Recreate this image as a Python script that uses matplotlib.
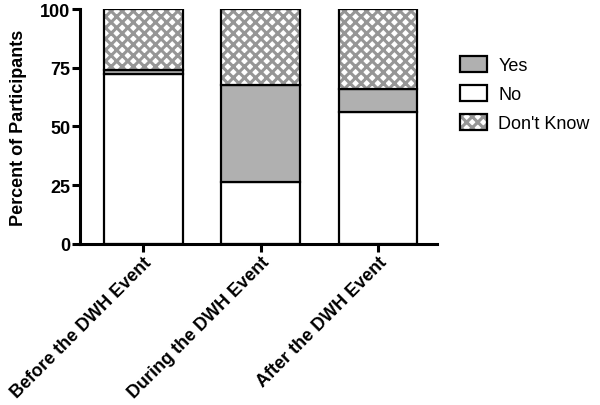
import matplotlib
matplotlib.use("Agg")
import matplotlib.pyplot as plt
import matplotlib.patches as mpatches
import numpy as np

plt.rcParams['font.family'] = ['Liberation Sans', 'DejaVu Sans']
plt.rcParams['hatch.linewidth'] = 2.2

# data (percent of participants)
periods = ["Before the DWH Event", "During the DWH Event", "After the DWH Event"]
no = [72.3, 26.5, 56.2]
yes = [1.7, 41.2, 9.8]
dont_know = [26.0, 32.3, 34.0]

x = np.arange(len(periods))
w = 0.67
no = np.array(no)
yes = np.array(yes)
dont_know = np.array(dont_know)

hatch_gray = '#969696'

fig = plt.figure(figsize=(6, 4.06), dpi=100)
ax = fig.add_axes([0.133, 0.397, 0.595, 0.578])

# no - white bottom
ax.bar(x, no, w, color='white', edgecolor='black', linewidth=1.6)
# yes - gray middle
ax.bar(x, yes, w, bottom=no, color='#b0b0b0', edgecolor='black', linewidth=1.6)
# don't know - hatched, fill first then outline
ax.bar(x, dont_know, w, bottom=no + yes, color='white', edgecolor=hatch_gray,
       hatch='xxx', linewidth=0)
ax.bar(x, dont_know, w, bottom=no + yes, fill=False, edgecolor='black', linewidth=1.6)

# legend (hatched box = hatch fill + black outline)
h_yes = mpatches.Patch(facecolor='#b0b0b0', edgecolor='black', linewidth=1.6)
h_no = mpatches.Patch(facecolor='white', edgecolor='black', linewidth=1.6)
h_dk_fill = mpatches.Patch(facecolor='white', edgecolor=hatch_gray, hatch='xxx', linewidth=0)
h_dk_edge = mpatches.Patch(fill=False, edgecolor='black', linewidth=1.6)
leg = fig.legend([h_yes, h_no, (h_dk_fill, h_dk_edge)], ["Yes", "No", "Don't Know"],
                 loc='upper left', bbox_to_anchor=(0.74, 0.90), frameon=False, fontsize=13,
                 handlelength=1.5, handleheight=1.0, labelspacing=0.6, handletextpad=0.6)

ax.set_xlim(-0.54, 2.5)
ax.set_ylim(0, 100)
ax.set_yticks([0, 25, 50, 75, 100])
ax.set_xticks(x)
ax.set_xticklabels(periods, rotation=45, ha='right', rotation_mode='anchor',
                   fontsize=13, fontweight='bold')
for lab in ax.get_yticklabels():
    lab.set_fontweight('bold')
    lab.set_fontsize(13)
ax.set_ylabel("Percent of Participants", fontsize=13, fontweight='bold', labelpad=9)

ax.spines['top'].set_visible(False)
ax.spines['right'].set_visible(False)
ax.spines['left'].set_linewidth(2.2)
ax.spines['bottom'].set_linewidth(2.2)
ax.tick_params(width=2.2, length=6, pad=1)

fig.savefig("out.png", dpi=100)
